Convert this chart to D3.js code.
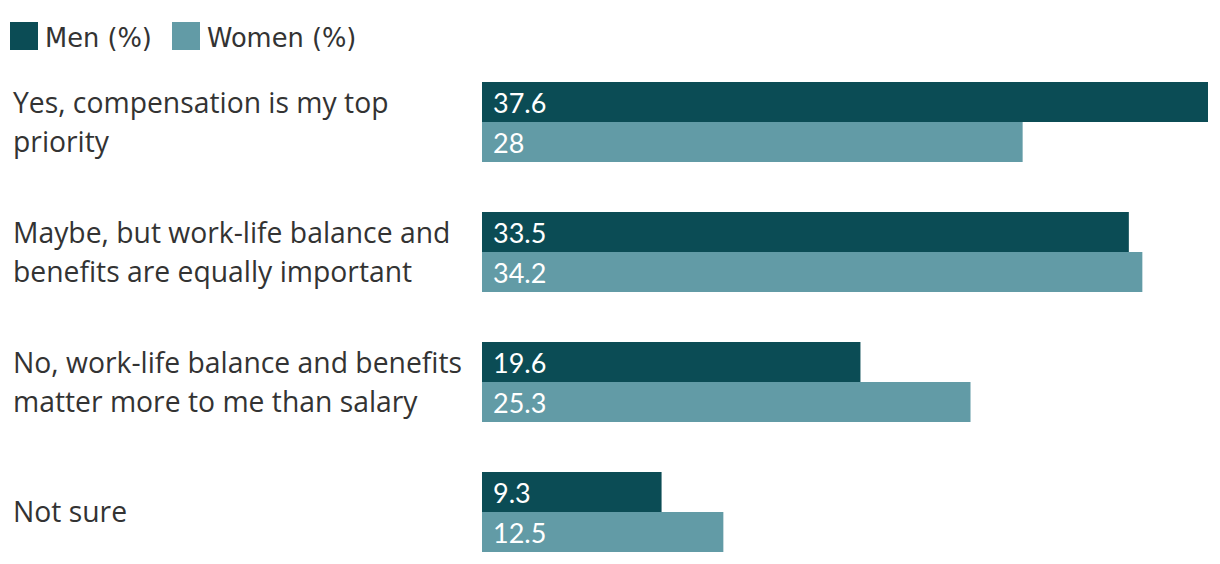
<!DOCTYPE html>
<html>
<head>
<meta charset="utf-8">
<script src="https://cdn.jsdelivr.net/npm/d3@7"></script>
<style>
  body { margin: 0; background: #fff; }
</style>
</head>
<body>
<div id="chart"></div>
<script>
// data
var categories = [
  ["Yes, compensation is my top", "priority"],
  ["Maybe, but work-life balance and", "benefits are equally important"],
  ["No, work-life balance and benefits", "matter more to me than salary"],
  ["Not sure"]
];
var seriesNames = ["Men (%)", "Women (%)"];
var men = [37.6, 33.5, 19.6, 9.3];
var women = [28, 34.2, 25.3, 12.5];

var colors = ["#0b4c55", "#629ba6"];
var width = 1220, height = 564;

var svg = d3.select("#chart").append("svg")
    .attr("width", width)
    .attr("height", height);

// legend
var legend = svg.append("g");
var lx = [10, 172];
seriesNames.forEach(function(name, i) {
  legend.append("rect")
    .attr("x", lx[i]).attr("y", 22)
    .attr("width", 28).attr("height", 28)
    .attr("fill", colors[i]);
  legend.append("text")
    .attr("x", lx[i] + 35).attr("y", 47)
    .style("font-family", "DejaVu Sans")
    .style("font-size", "25.7px")
    .attr("fill", "#333")
    .text(name);
});

// scales
var x = d3.scaleLinear().domain([0, 37.6]).range([482, 1208]);
var y = d3.scaleBand().domain(d3.range(categories.length)).range([82, 82 + 130 * 4]);
var barH = 40;

var rows = categories.map(function(c, i) {
  return { label: c, values: [men[i], women[i]] };
});

var g = svg.selectAll(".row").data(rows).enter().append("g")
    .attr("class", "row")
    .attr("transform", function(d, i) { return "translate(0," + y(i) + ")"; });

g.each(function(d) {
  var sel = d3.select(this);
  var lines = d.label;
  var lh = 39;
  var t = sel.append("text")
    .attr("x", 13)
    .style("font-family", "Open Sans")
    .style("font-size", "28.3px")
    .attr("fill", "#333");
  lines.forEach(function(line, k) {
    t.append("tspan")
      .attr("x", 13)
      .attr("y", barH + 10 + (k - (lines.length - 1) / 2) * lh)
      .text(line);
  });

  d.values.forEach(function(v, k) {
    sel.append("rect")
      .attr("x", x(0))
      .attr("y", k * barH)
      .attr("width", x(v) - x(0))
      .attr("height", barH)
      .attr("fill", colors[k]);
    sel.append("text")
      .attr("x", x(0) + 11)
      .attr("y", k * barH + 31)
      .style("font-family", "Lato")
      .style("font-size", "27px")
      .attr("fill", "#fff")
      .text(v);
  });
});
</script>
</body>
</html>
